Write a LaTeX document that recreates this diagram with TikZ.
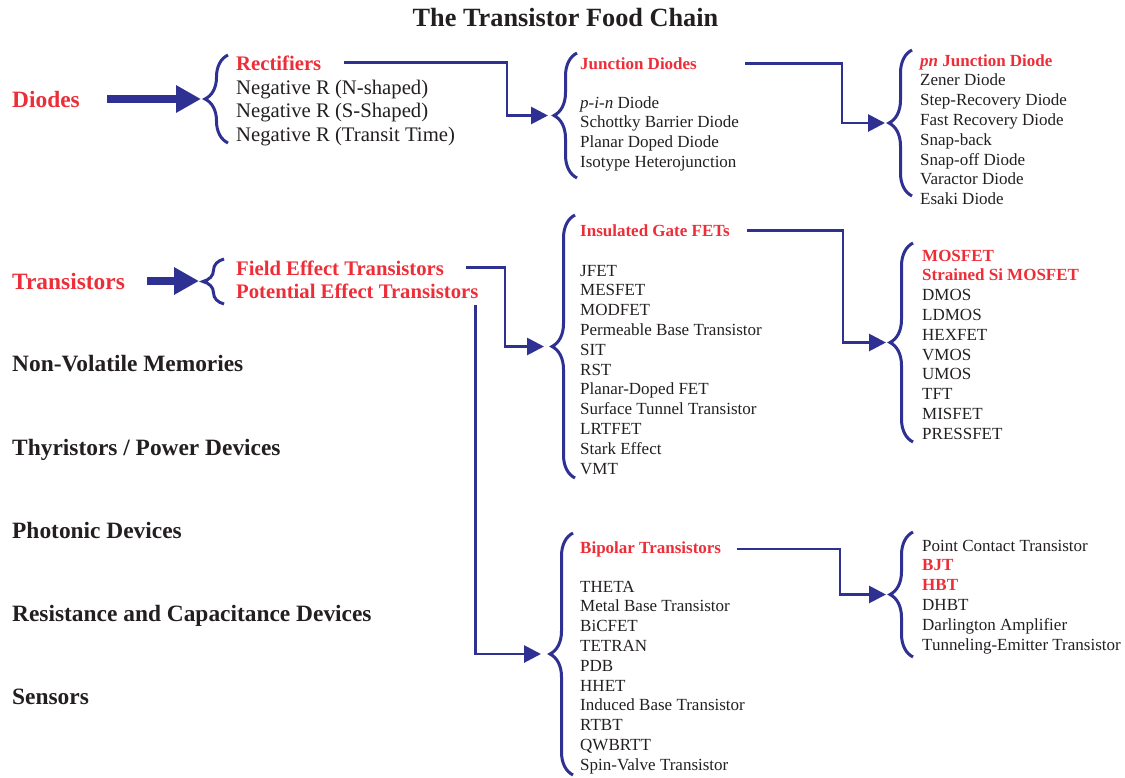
\documentclass[tikz,border=0pt]{standalone}
\usepackage{fontspec}
\setmainfont{Liberation Serif}
\usetikzlibrary{arrows.meta,decorations.pathreplacing}
\definecolor{Chain}{HTML}{2E3192}
\definecolor{Alert}{HTML}{ED2E38}
\definecolor{Ink}{HTML}{231F20}
\tikzset{
  headline/.style={
    anchor=base, inner sep=0pt, text=Ink,
    font=\fontsize{26.3}{30}\selectfont\bfseries
  },
  family/.style={
    anchor=base west, inner sep=0pt, text=Ink,
    font=\fontsize{23.4}{27}\selectfont\bfseries
  },
  hot/.style={text=Alert},
  midhead/.style={
    anchor=base west, inner sep=0pt, text=Alert,
    font=\fontsize{20.7}{23.5}\selectfont\bfseries
  },
  midlist/.style={
    anchor=north west, inner sep=0pt, text=Ink, align=left,
    font=\fontsize{20.7}{23.5}\selectfont
  },
  smallhead/.style={
    anchor=base west, inner sep=0pt, text=Alert,
    font=\fontsize{17}{19.8}\selectfont\bfseries
  },
  smalllist/.style={
    anchor=north west, inner sep=0pt, text=Ink, align=left,
    font=\fontsize{17}{19.8}\selectfont
  },
  brace/.style={
    draw=Chain, line width=3pt, decorate,
    decoration={brace, amplitude=23pt}
  },
  smallbrace/.style={
    draw=Chain, line width=3pt, decorate,
    decoration={brace, amplitude=21pt}
  },
  link/.style={-{Triangle[length=17pt,width=17pt]}, line width=2.8pt,
    draw=Chain, shorten >=4pt},
  bigarrow/.style={-{Triangle[length=25pt,width=26pt]}, line width=7.5pt,
    draw=Chain, shorten >=4pt}
}

\begin{document}
\begin{tikzpicture}[x=1pt,y=-1pt]
  \useasboundingbox (0,0) rectangle (1125,777);

  \node[headline] (title) at (565.5,26) {The Transistor Food Chain};

  % device families
  \node[family,hot] (diodes) at (12,107) {Diodes};
  \node[family,hot] (trans) at (12,289) {Transistors};
  \node[family] (nvm) at (12,371) {Non-Volatile Memories};
  \node[family] (thyr) at (12,455) {Thyristors / Power Devices};
  \node[family] (photon) at (12,538) {Photonic Devices};
  \node[family] (rcdev) at (12,621) {Resistance and Capacitance Devices};
  \node[family] (sensor) at (12,704) {Sensors};

  % brace tips
  \coordinate (dTip) at (205,99);
  \coordinate (tTip) at (203,281.5);
  \coordinate (jTip) at (552,115.5);
  \coordinate (fTip) at (548,346.5);
  \coordinate (bTip) at (545,654);
  \coordinate (pnTip) at (889,123);
  \coordinate (mTip) at (890,342.5);
  \coordinate (bjtTip) at (890,594.5);

  \draw[brace] (228,143) -- (228,55);
  \draw[smallbrace] (224,304) -- (224,259);
  \draw[brace] (577,178) -- (577,53);
  \draw[brace] (575,478) -- (575,215);
  \draw[brace] (573,775) -- (573,533);
  \draw[brace] (912,196) -- (912,50);
  \draw[brace] (913,442) -- (913,243);
  \draw[brace] (913,657) -- (913,532);

  % diodes
  \node[midhead] (rect) at (236,70) {Rectifiers};
  \node[midlist] (negL) at (236,77.5) {\strut Negative R (N-shaped)\\
    Negative R (S-Shaped)\\Negative R (Transit Time)};
  \node[smallhead] (junc) at (580,69) {Junction Diodes};
  \node[smalllist] (pinL) at (580,94.1) {\strut\textit{p-i-n} Diode\\
    Schottky Barrier Diode\\Planar Doped Diode\\Isotype Heterojunction};
  \node[smalllist] (pnL) at (920,52.1) {\strut
    \textcolor{Alert}{\bfseries\itshape pn\upshape{} Junction Diode}\\
    Zener Diode\\Step-Recovery Diode\\Fast Recovery Diode\\Snap-back\\
    Snap-off Diode\\Varactor Diode\\Esaki Diode};

  % transistors
  \node[midhead] (fet) at (236,275) {Field Effect Transistors};
  \node[midhead] (pet) at (236,298) {Potential Effect Transistors};
  \node[smallhead] (igfet) at (580,236) {Insulated Gate FETs};
  \node[smalllist] (jfetL) at (580,262.1) {\strut JFET\\MESFET\\MODFET\\
    Permeable Base Transistor\\SIT\\RST\\Planar-Doped FET\\
    Surface Tunnel Transistor\\LRTFET\\Stark Effect\\VMT};
  \node[smalllist] (mosL) at (922,247.1) {\strut
    \textcolor{Alert}{\bfseries MOSFET}\\
    \textcolor{Alert}{\bfseries Strained Si MOSFET}\\
    DMOS\\LDMOS\\HEXFET\\VMOS\\UMOS\\TFT\\MISFET\\PRESSFET};
  \node[smallhead] (bip) at (580,553) {Bipolar Transistors};
  \node[smalllist] (thetaL) at (580,578.1) {\strut THETA\\
    Metal Base Transistor\\BiCFET\\TETRAN\\PDB\\HHET\\
    Induced Base Transistor\\RTBT\\QWBRTT\\Spin-Valve Transistor};
  \node[smalllist] (pcL) at (922,537.1) {\strut Point Contact Transistor\\
    \textcolor{Alert}{\bfseries BJT}\\\textcolor{Alert}{\bfseries HBT}\\
    DHBT\\Darlington Amplifier\\Tunneling-Emitter Transistor};

  % connectors
  \draw[bigarrow] ([xshift=27]diodes.east) -- (diodes.east -| dTip);
  \draw[bigarrow] ([xshift=22]trans.east) -- (trans.east -| tTip);
  \draw[link] ([xshift=23]rect.east) -| ([xshift=-45]jTip) -- (jTip);
  \draw[link] ([xshift=48]junc.east) -| ([xshift=-47]pnTip) -- (pnTip);
  \draw[link] ([xshift=22]fet.east) -| ([xshift=-43]fTip) -- (fTip);
  \draw[link] ([xshift=-3,yshift=-7]pet.south east) |- (bTip);
  \draw[link] ([xshift=17]igfet.east) -| ([xshift=-47]mTip) -- (mTip);
  \draw[link] ([xshift=16]bip.east) -| ([xshift=-50]bjtTip) -- (bjtTip);
\end{tikzpicture}
\end{document}
